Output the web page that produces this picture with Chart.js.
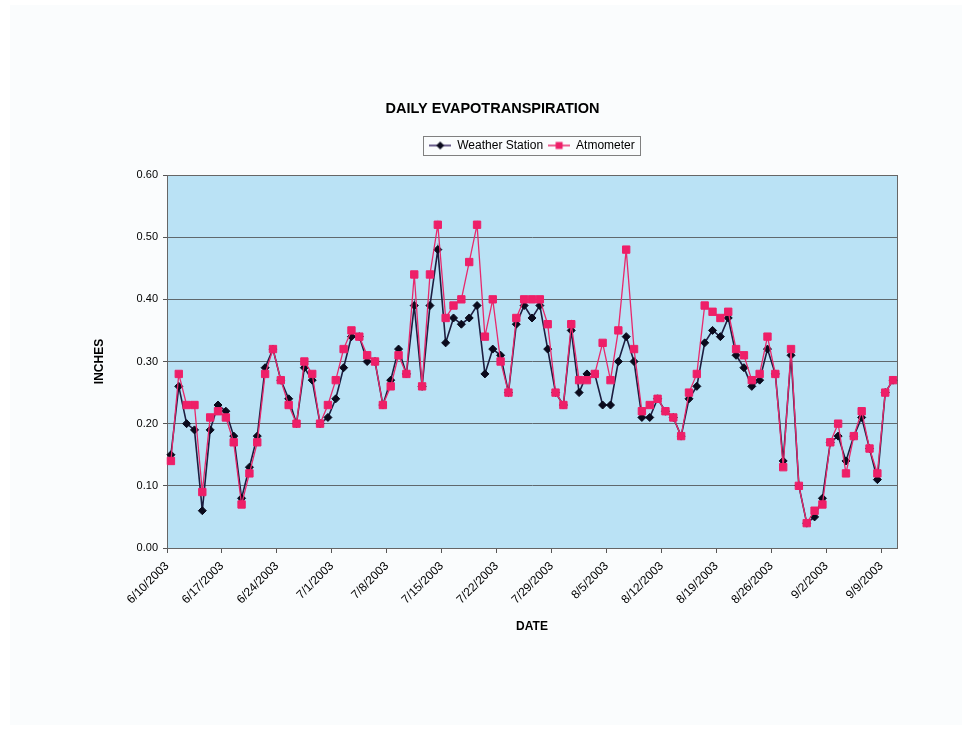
<!DOCTYPE html>
<html><head><meta charset="utf-8">
<script src="https://cdn.jsdelivr.net/npm/chart.js@4.4.1/dist/chart.umd.min.js"></script>
<style>html,body{margin:0;padding:0;background:#fff;}#wrap{width:966px;height:734px;}</style>
</head><body><div id="wrap"><canvas id="c" width="966" height="734"></canvas></div>
<script>
const dates = [
'6/10/2003','6/11/2003','6/12/2003','6/13/2003','6/14/2003','6/15/2003','6/16/2003','6/17/2003','6/18/2003','6/19/2003',
'6/20/2003','6/21/2003','6/22/2003','6/23/2003','6/24/2003','6/25/2003','6/26/2003','6/27/2003','6/28/2003','6/29/2003',
'6/30/2003','7/1/2003','7/2/2003','7/3/2003','7/4/2003','7/5/2003','7/6/2003','7/7/2003','7/8/2003','7/9/2003',
'7/10/2003','7/11/2003','7/12/2003','7/13/2003','7/14/2003','7/15/2003','7/16/2003','7/17/2003','7/18/2003','7/19/2003',
'7/20/2003','7/21/2003','7/22/2003','7/23/2003','7/24/2003','7/25/2003','7/26/2003','7/27/2003','7/28/2003','7/29/2003',
'7/30/2003','7/31/2003','8/1/2003','8/2/2003','8/3/2003','8/4/2003','8/5/2003','8/6/2003','8/7/2003','8/8/2003',
'8/9/2003','8/10/2003','8/11/2003','8/12/2003','8/13/2003','8/14/2003','8/15/2003','8/16/2003','8/17/2003','8/18/2003',
'8/19/2003','8/20/2003','8/21/2003','8/22/2003','8/23/2003','8/24/2003','8/25/2003','8/26/2003','8/27/2003','8/28/2003',
'8/29/2003','8/30/2003','8/31/2003','9/1/2003','9/2/2003','9/3/2003','9/4/2003','9/5/2003','9/6/2003','9/7/2003',
'9/8/2003','9/9/2003','9/10/2003'];

const xTickLabels = ['6/10/2003','6/17/2003','6/24/2003','7/1/2003','7/8/2003','7/15/2003','7/22/2003',
'7/29/2003','8/5/2003','8/12/2003','8/19/2003','8/26/2003','9/2/2003','9/9/2003'];

const weatherStation = [
0.15,0.26,0.20,0.19,0.06,0.19,0.23,0.22,0.18,0.08,
0.13,0.18,0.29,0.32,0.27,0.24,0.20,0.29,0.27,0.20,
0.21,0.24,0.29,0.34,0.34,0.30,0.30,0.23,0.27,0.32,
0.28,0.39,0.26,0.39,0.48,0.33,0.37,0.36,0.37,0.39,
0.28,0.32,0.31,0.25,0.36,0.39,0.37,0.39,0.32,0.25,
0.23,0.35,0.25,0.28,0.28,0.23,0.23,0.30,0.34,0.30,
0.21,0.21,0.24,0.22,0.21,0.18,0.24,0.26,0.33,0.35,
0.34,0.37,0.31,0.29,0.26,0.27,0.32,0.28,0.14,0.31,
0.10,0.04,0.05,0.08,0.17,0.18,0.14,0.18,0.21,0.16,
0.11,0.25,0.27];

const atmometer = [
0.14,0.28,0.23,0.23,0.09,0.21,0.22,0.21,0.17,0.07,
0.12,0.17,0.28,0.32,0.27,0.23,0.20,0.30,0.28,0.20,
0.23,0.27,0.32,0.35,0.34,0.31,0.30,0.23,0.26,0.31,
0.28,0.44,0.26,0.44,0.52,0.37,0.39,0.40,0.46,0.52,
0.34,0.40,0.30,0.25,0.37,0.40,0.40,0.40,0.36,0.25,
0.23,0.36,0.27,0.27,0.28,0.33,0.27,0.35,0.48,0.32,
0.22,0.23,0.24,0.22,0.21,0.18,0.25,0.28,0.39,0.38,
0.37,0.38,0.32,0.31,0.27,0.28,0.34,0.28,0.13,0.32,
0.10,0.04,0.06,0.07,0.17,0.20,0.12,0.18,0.22,0.16,
0.12,0.25,0.27];

const titleText = 'DAILY EVAPOTRANSPIRATION';
const seriesNames = ['Weather Station', 'Atmometer'];

const WS_LINE = '#1d1d40', WS_MARK = '#0a0a1c';
const AT_LINE = '#e8286c', AT_MARK = '#ee1f68';

Chart.defaults.font.family = "'Liberation Sans', Arial, sans-serif";
Chart.defaults.color = '#000';

function legendIcon(lineColor, markColor, shape) {
  const c = document.createElement('canvas');
  c.width = 22; c.height = 12;
  const g = c.getContext('2d');
  g.strokeStyle = lineColor; g.lineWidth = 1.5;
  g.beginPath(); g.moveTo(0, 6); g.lineTo(22, 6); g.stroke();
  g.fillStyle = markColor;
  if (shape === 'diamond') {
    g.beginPath(); g.moveTo(11, 2); g.lineTo(15, 6); g.lineTo(11, 10); g.lineTo(7, 6); g.closePath(); g.fill();
  } else {
    g.fillRect(7.5, 2.5, 7, 7);
  }
  return c;
}
const iconWS = legendIcon('#3a2a66', WS_MARK, 'diamond');
const iconAT = legendIcon(AT_LINE, AT_MARK, 'square');

const decor = {
  id: 'decor',
  beforeDraw(chart) {
    const {ctx, chartArea: a} = chart;
    ctx.save();
    ctx.fillStyle = '#ffffff'; ctx.fillRect(0, 0, chart.width, chart.height);
    ctx.fillStyle = '#fafcfd'; ctx.fillRect(10, 5, 952, 720);
    ctx.fillStyle = '#bae2f5'; ctx.fillRect(a.left, a.top, a.right - a.left, a.bottom - a.top);
    ctx.restore();
  },
  beforeDatasetsDraw(chart) {
    const {ctx, chartArea: a} = chart;
    ctx.save();
    ctx.strokeStyle = '#666'; ctx.lineWidth = 1;
    ctx.strokeRect(Math.round(a.left) + 0.5, Math.round(a.top) + 0.5, Math.round(a.right - a.left), Math.round(a.bottom - a.top));
    ctx.restore();
  },
  afterDraw(chart) {
    const ctx = chart.ctx;
    ctx.save();
    ctx.fillStyle = '#000';
    ctx.font = "bold 14.5px 'Liberation Sans', Arial, sans-serif";
    ctx.textAlign = 'center'; ctx.textBaseline = 'middle';
    ctx.fillText(titleText, 492.5, 109);
    const hb = chart.legend.legendHitBoxes;
    if (hb && hb.length) {
      let l = Infinity, r = -Infinity;
      hb.forEach(h => { l = Math.min(l, h.left); r = Math.max(r, h.left + h.width); });
      const cy = hb[0].top + hb[0].height / 2;
      ctx.strokeStyle = '#808080'; ctx.lineWidth = 1;
      ctx.strokeRect(Math.round(l - 6) + 0.5, Math.round(cy - 9.5) + 0.5, Math.round(r - l + 11), 19);
    }
    ctx.restore();
  }
};

new Chart(document.getElementById('c'), {
  type: 'line',
  data: {
    labels: dates,
    datasets: [
      { label: seriesNames[0], data: weatherStation, xAxisID: 'x', yAxisID: 'y',
        borderColor: WS_LINE, borderWidth: 1.6, tension: 0,
        pointStyle: 'rectRot', pointRadius: 4, pointBackgroundColor: WS_MARK, pointBorderColor: WS_MARK, pointBorderWidth: 1,
        order: 1 },
      { label: seriesNames[1], data: atmometer, xAxisID: 'x', yAxisID: 'y',
        borderColor: AT_LINE, borderWidth: 1.3, tension: 0,
        pointStyle: 'rect', pointRadius: 5.2, pointBackgroundColor: AT_MARK, pointBorderColor: AT_MARK, pointBorderWidth: 1,
        order: 0 }
    ]
  },
  options: {
    responsive: false,
    animation: false,
    devicePixelRatio: 1,
    layout: { padding: { top: 134.5, left: 10, right: 69, bottom: 0 } },
    plugins: {
      tooltip: { enabled: false },
      title: { display: false },
      legend: {
        display: true, position: 'top', fullSize: false,
        labels: {
          usePointStyle: true, pointStyleWidth: 22, padding: 5,
          font: { size: 12 }, color: '#000',
          generateLabels: () => [
            { text: seriesNames[0], pointStyle: iconWS, fillStyle: WS_MARK, strokeStyle: WS_LINE, lineWidth: 0, hidden: false, datasetIndex: 0, fontColor: '#000' },
            { text: seriesNames[1], pointStyle: iconAT, fillStyle: AT_MARK, strokeStyle: AT_LINE, lineWidth: 0, hidden: false, datasetIndex: 1, fontColor: '#000' }
          ]
        }
      }
    },
    scales: {
      x: {
        type: 'category', position: 'bottom', offset: true,
        ticks: {
          autoSkip: false, maxRotation: 45, minRotation: 45, font: { size: 12 }, color: '#000',
          labelOffset: -3.92, padding: 6,
          callback: (v, i) => xTickLabels.includes(dates[i]) ? dates[i] : ''
        },
        grid: {
          offset: true, drawOnChartArea: false, tickLength: 5,
          tickColor: c => (c.index !== undefined && xTickLabels.includes(dates[c.index])) ? '#555' : 'rgba(0,0,0,0)'
        },
        border: { color: '#555' },
        title: { display: true, text: 'DATE', font: { size: 12, weight: 'bold' }, color: '#000', padding: { top: 0, bottom: 100 } },
        afterFit: s => { s.height = 186; }
      },
      xTop: {
        type: 'category', position: 'top', display: true,
        grid: { display: false }, ticks: { display: false }, border: { display: false },
        afterFit: s => { s.height = 13.5; }
      },
      y: {
        min: 0, max: 0.6,
        ticks: { stepSize: 0.1, callback: v => Number(v).toFixed(2), font: { size: 11 }, color: '#000', padding: 5 },
        grid: { color: '#5f686d', lineWidth: 1, tickLength: 4, tickColor: '#555' },
        border: { color: '#555' },
        title: { display: true, text: 'INCHES', font: { size: 12, weight: 'bold' }, color: '#000', padding: { top: 82, bottom: 0 } },
        afterFit: s => { s.width = 157; }
      }
    }
  },
  plugins: [decor]
});
</script></body></html>
